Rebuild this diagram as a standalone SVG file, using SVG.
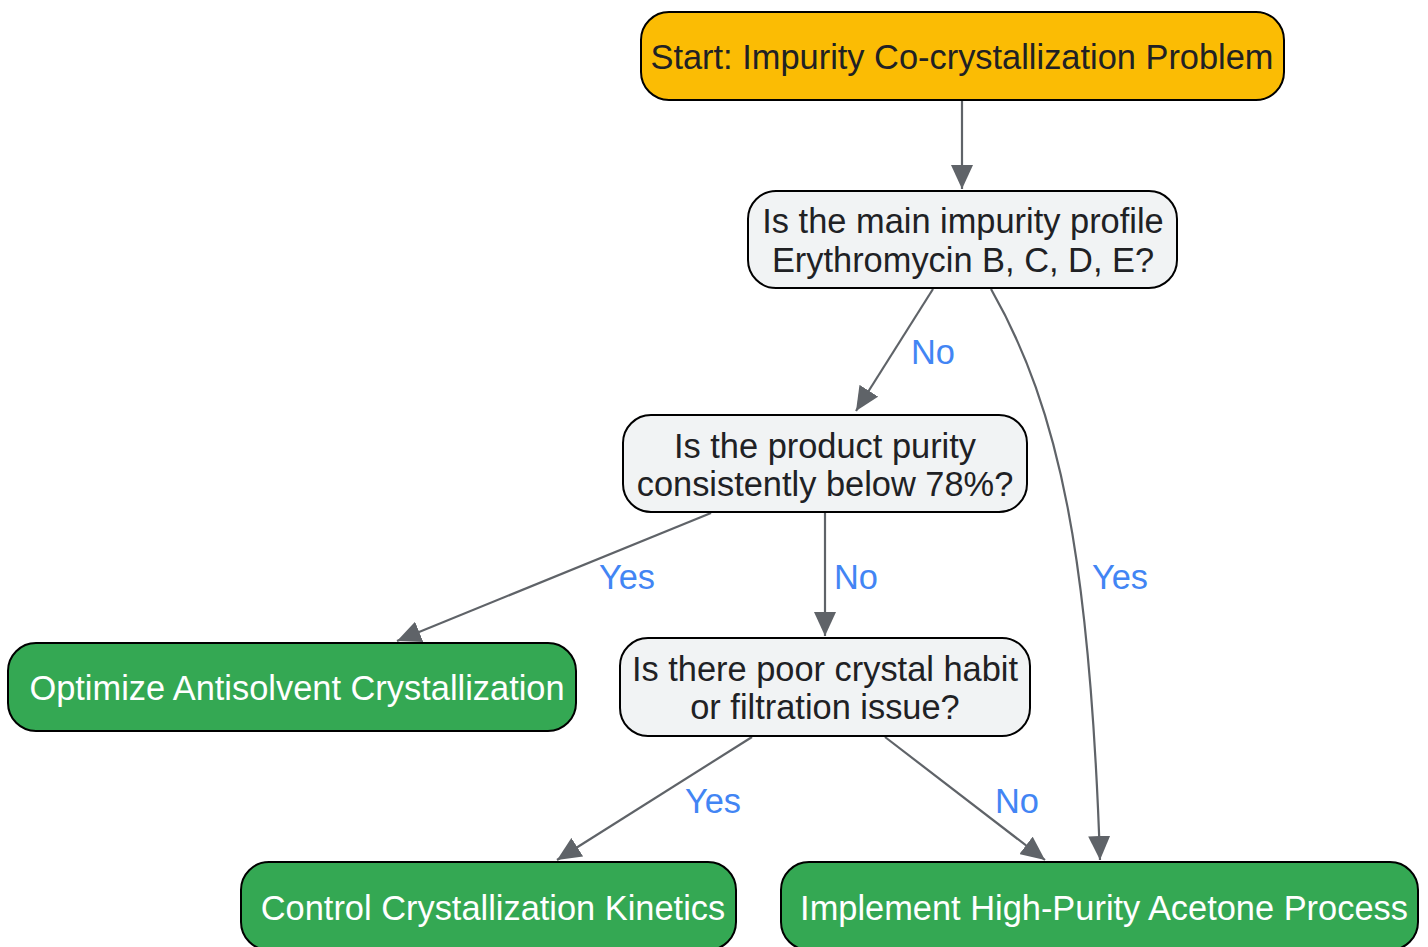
<svg xmlns="http://www.w3.org/2000/svg" width="1428" height="947" viewBox="0 0 1428 947">
<style>
.node rect{stroke:#000;stroke-width:2}
.start rect{fill:#FBBC04}
.q rect{fill:#F1F3F4}
.end rect{fill:#34A853}
text{font-family:"Liberation Sans",Arial,sans-serif;font-size:34.4px;text-anchor:middle;dominant-baseline:central}
.start text,.q text{fill:#202124}
.end text{fill:#FFFFFF}
.edges path{fill:none;stroke:#5F6368;stroke-width:2.2;marker-end:url(#arr)}
.lbl text{fill:#4285F4;font-size:34.4px}
</style>
<defs>
<marker id="arr" markerUnits="userSpaceOnUse" markerWidth="26" markerHeight="22" refX="24" refY="11" orient="auto">
<path d="M0,0 L24,11 L0,22 Z" fill="#5F6368"/>
</marker>
</defs>
<rect width="1428" height="947" fill="#FFFFFF"/>
<g id="connectors" class="edges">
<path d="M962,100 L962,189"/>
<path d="M933,289 L856,411"/>
<path d="M991,289 C1060,410 1090,560 1100,860"/>
<path d="M711,513 L397,641"/>
<path d="M825,513 L825,636"/>
<path d="M752,737 L557,860"/>
<path d="M885,737 L1045,860"/>
</g>
<g id="labels" class="lbl">
<text x="933" y="352">No</text>
<text x="1120" y="577">Yes</text>
<text x="627" y="577">Yes</text>
<text x="856" y="577">No</text>
<text x="713" y="801">Yes</text>
<text x="1017" y="801">No</text>
</g>
<g id="start" class="node start">
<rect x="641" y="12" width="643" height="88" rx="28"/>
<text x="962" y="57">Start: Impurity Co-crystallization Problem</text>
</g>
<g id="q1" class="node q">
<rect x="748" y="191" width="429" height="97" rx="28"/>
<text x="963" y="221">Is the main impurity profile</text>
<text x="963" y="260">Erythromycin B, C, D, E?</text>
</g>
<g id="q2" class="node q">
<rect x="623" y="415" width="404" height="97" rx="28"/>
<text x="825" y="446">Is the product purity</text>
<text x="825" y="484">consistently below 78%?</text>
</g>
<g id="optimize" class="node end">
<rect x="8" y="643" width="568" height="88" rx="28"/>
<text x="297" y="688">Optimize Antisolvent Crystallization</text>
</g>
<g id="q3" class="node q">
<rect x="620" y="638" width="410" height="98" rx="28"/>
<text x="825" y="669">Is there poor crystal habit</text>
<text x="825" y="707">or filtration issue?</text>
</g>
<g id="control" class="node end">
<rect x="241" y="862" width="495" height="88" rx="28"/>
<text x="493" y="908">Control Crystallization Kinetics</text>
</g>
<g id="implement" class="node end">
<rect x="781" y="862" width="637" height="88" rx="28"/>
<text x="1104" y="908">Implement High-Purity Acetone Process</text>
</g>
</svg>
